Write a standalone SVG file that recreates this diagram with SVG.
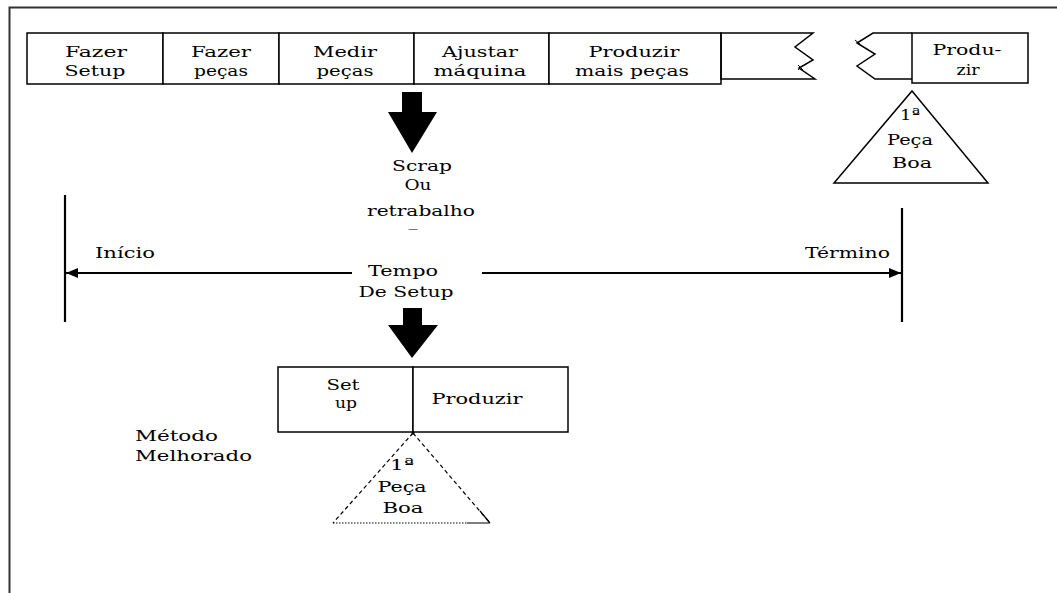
<svg xmlns="http://www.w3.org/2000/svg" width="1057" height="593" viewBox="0 0 1057 593">
<style>
text{font-family:"DejaVu Serif","Liberation Serif",serif;font-size:15px;fill:#000;text-anchor:middle}
.l{text-anchor:start}
.box{fill:#fff;stroke:#000;stroke-width:1.5}
.ln{fill:none;stroke:#000;stroke-width:1.5}
.tl{fill:none;stroke:#000;stroke-width:2.2}
.big{fill:#000}
</style>
<defs>
<marker id="ah" viewBox="0 0 12 10" refX="12" refY="5" markerWidth="12" markerHeight="10" markerUnits="userSpaceOnUse" orient="auto">
<path d="M0,0 L12,5 L0,10 Z" fill="#000"/>
</marker>
</defs>
<rect width="1057" height="593" fill="#fff"/>
<g id="frame">
<path d="M1057,7.5 H9.5 V593" fill="none" stroke="#333" stroke-width="2"/>
</g>
<g id="top-row">
<g id="n-fazer-setup"><rect class="box" x="27" y="33" width="136" height="51"/><text x="96" y="57" textLength="62" lengthAdjust="spacingAndGlyphs">Fazer</text><text x="95" y="76" textLength="61" lengthAdjust="spacingAndGlyphs">Setup</text></g>
<g id="n-fazer-pecas"><rect class="box" x="163" y="33" width="116" height="51"/><text x="221" y="57" textLength="60" lengthAdjust="spacingAndGlyphs">Fazer</text><text x="221" y="76" textLength="54" lengthAdjust="spacingAndGlyphs">peças</text></g>
<g id="n-medir-pecas"><rect class="box" x="279" y="33" width="135" height="51"/><text x="345" y="57" textLength="64" lengthAdjust="spacingAndGlyphs">Medir</text><text x="345" y="76" textLength="57" lengthAdjust="spacingAndGlyphs">peças</text></g>
<g id="n-ajustar"><rect class="box" x="414" y="33" width="135" height="51"/><text x="480" y="57" textLength="76" lengthAdjust="spacingAndGlyphs">Ajustar</text><text x="480" y="76" textLength="93" lengthAdjust="spacingAndGlyphs">máquina</text></g>
<g id="n-produzir-mais"><rect class="box" x="549" y="33" width="172" height="51"/><text x="634" y="57" textLength="91" lengthAdjust="spacingAndGlyphs">Produzir</text><text x="632" y="76" textLength="114" lengthAdjust="spacingAndGlyphs">mais peças</text></g>
<g id="n-partial-left"><path class="ln" d="M721,33 H813 L795,47 L813,60 L799,68 L815,79 H721 Z" fill="#fff"/><path d="M798,65 l5,5 M803,65 l-5,5" stroke="#000" stroke-width="1"/></g>
<g id="n-partial-right"><path class="ln" d="M912,33 H873 L857,43 L875,54 L857,66 L875,79 H912"/><path d="M855,40 l5,4" stroke="#000" stroke-width="1"/></g>
<g id="n-produzir-end"><rect class="box" x="912" y="33" width="116" height="50"/><text x="967" y="55" textLength="69" lengthAdjust="spacingAndGlyphs">Produ-</text><text x="968" y="75" textLength="23" lengthAdjust="spacingAndGlyphs">zir</text></g>
<g id="n-peca-boa-1"><path class="ln" d="M912,91 L988,183 H834 Z" fill="#fff"/><text x="910" y="120" textLength="20" lengthAdjust="spacingAndGlyphs">1ª</text><text x="910" y="145" textLength="46" lengthAdjust="spacingAndGlyphs">Peça</text><text x="912" y="168" textLength="40" lengthAdjust="spacingAndGlyphs">Boa</text></g>
</g>
<g id="n-scrap">
<text x="422" y="171" textLength="60" lengthAdjust="spacingAndGlyphs">Scrap</text>
<text x="418" y="190" textLength="27" lengthAdjust="spacingAndGlyphs">Ou</text>
<text x="421" y="216" textLength="108" lengthAdjust="spacingAndGlyphs">retrabalho</text>
<text x="413" y="232" style="font-size:10px" textLength="11" lengthAdjust="spacingAndGlyphs">–</text>
</g>
<g id="n-timeline">
<line class="tl" x1="65" y1="195" x2="65" y2="322"/>
<line class="tl" x1="902" y1="208" x2="902" y2="322"/>
<text class="l" x="95" y="258" textLength="60" lengthAdjust="spacingAndGlyphs">Início</text>
<text class="l" x="805" y="258" textLength="85" lengthAdjust="spacingAndGlyphs">Término</text>
<text x="403" y="276" textLength="70" lengthAdjust="spacingAndGlyphs">Tempo</text>
<text x="406" y="297" textLength="95" lengthAdjust="spacingAndGlyphs">De Setup</text>
</g>
<g id="connectors">
<path class="big" d="M402,92 H422 V112 H437 L412,153 L388,112 H402 Z"/>
<path class="big" d="M403,308 H422 V325 H438 L412,358 L388,325 H403 Z"/>
<line class="tl" x1="352" y1="273" x2="66" y2="273" marker-end="url(#ah)"/>
<line class="tl" x1="482" y1="273" x2="901" y2="273" marker-end="url(#ah)"/>
</g>
<g id="bottom">
<g id="n-setup"><rect class="box" x="278" y="367" width="135" height="65"/><text x="343" y="390" textLength="33" lengthAdjust="spacingAndGlyphs">Set</text><text x="346" y="408" textLength="22" lengthAdjust="spacingAndGlyphs">up</text></g>
<g id="n-produzir"><rect class="box" x="413" y="367" width="155" height="65"/><text x="477" y="404" textLength="91" lengthAdjust="spacingAndGlyphs">Produzir</text></g>
<g id="n-metodo"><text class="l" x="135" y="441" textLength="83" lengthAdjust="spacingAndGlyphs">Método</text><text class="l" x="135" y="461" textLength="117" lengthAdjust="spacingAndGlyphs">Melhorado</text></g>
<g id="n-peca-boa-2">
<path d="M413,433 L333,523" fill="none" stroke="#000" stroke-width="1.2" stroke-dasharray="4,3"/>
<path d="M413,433 L490,523" fill="none" stroke="#000" stroke-width="1.2" stroke-dasharray="4,3"/>
<path d="M333,523 H467" fill="none" stroke="#000" stroke-width="1.2" stroke-dasharray="1.5,1.5"/>
<path d="M467,523 H490 M480,511 L490,523" fill="none" stroke="#000" stroke-width="1.2"/>
<circle cx="413" cy="433" r="1.5" fill="#000"/>
<text x="402" y="470" textLength="24" lengthAdjust="spacingAndGlyphs">1ª</text><text x="402" y="492" textLength="49" lengthAdjust="spacingAndGlyphs">Peça</text><text x="403" y="513" textLength="41" lengthAdjust="spacingAndGlyphs">Boa</text>
</g>
</g>
</svg>
